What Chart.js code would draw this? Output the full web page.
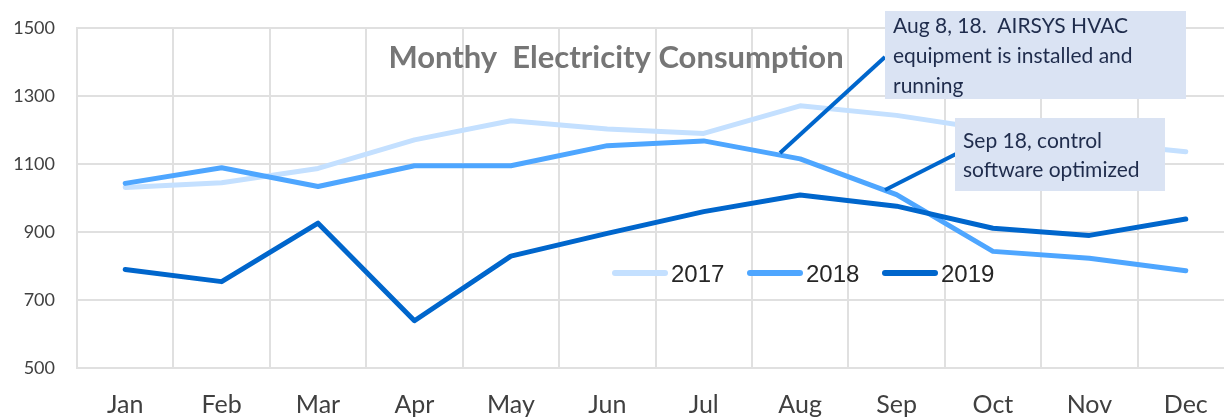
<!DOCTYPE html>
<html><head><meta charset="utf-8">
<script src="https://cdn.jsdelivr.net/npm/chart.js@4/dist/chart.umd.min.js"></script>
<style>
html,body{margin:0;padding:0;background:#fff;overflow:hidden;width:1224px;height:420px}
#wrap{width:1240px;height:420px}
</style>
</head><body><div id="wrap"><canvas id="c" width="1240" height="420"></canvas></div>
<script>
const months = ['Jan','Feb','Mar','Apr','May','Jun','Jul','Aug','Sep','Oct','Nov','Dec'];
const y2017 = [1031,1045,1087,1171,1227,1203,1190,1271,1243,1200,1165,1136];
const y2018 = [1043,1089,1034,1095,1095,1154,1168,1115,1010,843,823,786];
const y2019 = [790,754,926,639,829,896,960,1009,976,911,890,938];
const yMin = 500, yMax = 1500, yStep = 200;
const seriesNames = ['2017','2018','2019'];
const seriesColors = ['#c4e0ff','#4ea6ff','#0066cc'];
const titleText = 'Monthy  Electricity Consumption';
const note1 = ['Aug 8, 18.  AIRSYS HVAC','equipment is installed and','running'];
const note2 = ['Sep 18, control','software optimized'];

const FONT = 'Lato, "Noto Sans", sans-serif';
const GRID = '#e0e0e0';

const overlay = {
  id: 'overlay',
  afterDraw(chart) {
    const ctx = chart.ctx;
    ctx.save();
    // title
    ctx.font = 'bold 31px ' + FONT;
    ctx.fillStyle = '#767676';
    ctx.textAlign = 'center';
    ctx.textBaseline = 'alphabetic';
    ctx.fillText(titleText, 616, 68);
    // legend
    const lx = [612, 747, 882];
    ctx.font = '24px "Liberation Sans", Arial, sans-serif';
    ctx.textAlign = 'left';
    for (let i = 0; i < 3; i++) {
      ctx.strokeStyle = seriesColors[i];
      ctx.lineWidth = 6;
      ctx.lineCap = 'round';
      ctx.beginPath();
      ctx.moveTo(lx[i] + 3, 273);
      ctx.lineTo(lx[i] + 53, 273);
      ctx.stroke();
      ctx.fillStyle = '#262626';
      ctx.fillText(seriesNames[i], lx[i] + 59, 281.5);
    }
    // connectors
    ctx.strokeStyle = '#0066cc';
    ctx.lineWidth = 4;
    ctx.lineCap = 'butt';
    ctx.beginPath(); ctx.moveTo(780, 153); ctx.lineTo(885, 57); ctx.stroke();
    ctx.beginPath(); ctx.moveTo(885, 190); ctx.lineTo(956, 154); ctx.stroke();
    // annotation boxes
    ctx.fillStyle = '#dae3f3';
    ctx.fillRect(885, 11, 301, 88);
    ctx.fillRect(955, 118, 210, 73);
    ctx.fillStyle = '#1f2c4c';
    ctx.font = '21px ' + FONT;
    note1.forEach((t, i) => ctx.fillText(t, 893, 33 + i * 30));
    note2.forEach((t, i) => ctx.fillText(t, 963, 148 + i * 29));
    ctx.restore();
  }
};

const ds = [y2017, y2018, y2019].map((d, i) => ({
  label: seriesNames[i],
  data: d,
  borderColor: seriesColors[i],
  backgroundColor: seriesColors[i],
  borderWidth: 5,
  pointRadius: 0,
  tension: 0,
  borderCapStyle: 'round',
  borderJoinStyle: 'round',
  fill: false,
  order: 2 - i
}));

new Chart(document.getElementById('c'), {
  type: 'line',
  data: { labels: months, datasets: ds },
  options: {
    responsive: false,
    animation: false,
    devicePixelRatio: 1,
    layout: { padding: { top: 28, right: 6, left: 0, bottom: 0 } },
    plugins: { legend: { display: false }, tooltip: { enabled: false }, title: { display: false } },
    scales: {
      x: {
        offset: true,
        grid: { offset: true, color: GRID, lineWidth: 2, drawTicks: false },
        border: { color: GRID, width: 2 },
        ticks: { font: { family: FONT, size: 25 }, color: '#404040', padding: 22, maxRotation: 0, autoSkip: false },
        afterFit: s => { s.height = 52; }
      },
      y: {
        min: yMin, max: yMax,
        grid: { color: GRID, lineWidth: 2, drawTicks: false },
        border: { color: GRID, width: 2 },
        ticks: { stepSize: yStep, font: { family: FONT, size: 18 }, color: '#404040', padding: 22,
                 callback: v => String(v) },
        afterFit: s => { s.width = 77; s.paddingTop = 0; s.paddingBottom = 0; }
      }
    }
  },
  plugins: [overlay]
});
</script>
</body></html>
